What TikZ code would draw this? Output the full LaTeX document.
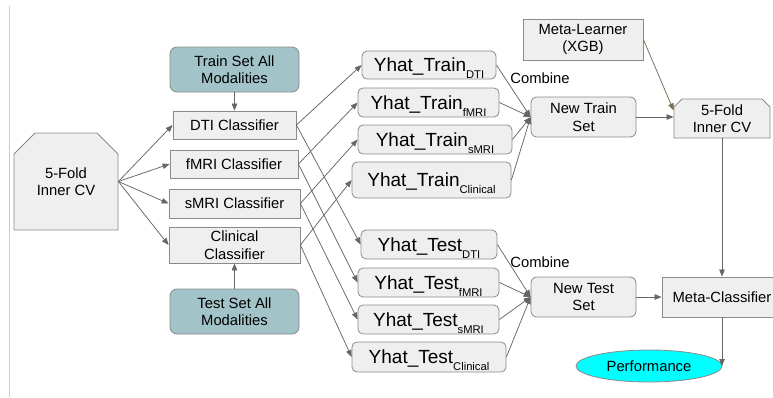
\documentclass[tikz,border=0pt]{standalone}
\usepackage{fontspec}
\setmainfont{Liberation Sans}
\usetikzlibrary{arrows.meta,shapes.misc,shapes.geometric}

\definecolor{boxfill}{HTML}{EFEFEF}
\definecolor{boxline}{HTML}{8A8A8A}
\definecolor{wire}{HTML}{666666}
\definecolor{setfill}{HTML}{A2C4C9}
\definecolor{perfcyan}{HTML}{00FFFF}
\definecolor{xgbwire}{HTML}{7A6A52}
\definecolor{marginline}{HTML}{CCCCCC}

% prediction label: main name with a lowered modality subscript
\newcommand{\yhatlabel}[2]{#1\raisebox{-7pt}{\fontsize{11.2}{13}\selectfont #2}}

\tikzset{
  box/.style={draw=boxline, fill=boxfill, line width=0.8pt, inner sep=0pt,
              align=center, text=black},
  rbox/.style={box, rounded corners=5pt},
  ybox/.style={rbox, font=\fontsize{19}{22}\selectfont, text height=13pt, text depth=0pt},
  setbox/.style={rbox, fill=setfill, rounded corners=7pt},
  cvbox/.style={box, chamfered rectangle, chamfered rectangle corners={north west, north east}},
  conn/.style={draw=wire, line width=0.75pt, -{Triangle[length=7pt,width=5.5pt]}},
}

\begin{document}
\begin{tikzpicture}[x=1pt, y=-1pt, font=\fontsize{14.8}{17.5}\selectfont]
\useasboundingbox (0,0) rectangle (773,397);
\clip (0,0) rectangle (773,397);

% page margin rule
\draw[marginline, line width=0.8pt] (9,6) -- (9,397);

% outer cross-validation split
\node[cvbox, chamfered rectangle xsep=11pt, chamfered rectangle ysep=10pt,
      minimum width=104pt, minimum height=97pt] (cvL) at (66,181.5) {5-Fold\\Inner CV};

% data sources
\node[setbox, minimum width=129pt, minimum height=45pt] (trainset) at (234.5,69.5) {Train Set All\\Modalities};
\node[setbox, minimum width=129pt, minimum height=45pt] (testset) at (234.5,311.5) {Test Set All\\Modalities};

% base classifiers
\node[box, minimum width=123pt, minimum height=28pt] (dti)  at (234.5,125)   {DTI Classifier};
\node[box, minimum width=128pt, minimum height=28pt] (fmri) at (234,164)     {fMRI Classifier};
\node[box, minimum width=131pt, minimum height=29pt] (smri) at (234.5,203.5) {sMRI Classifier};
\node[box, minimum width=131pt, minimum height=36pt] (clin) at (234.5,245)   {Clinical\\Classifier};

% predictions on the training folds
\node[ybox, minimum width=134pt, minimum height=28pt] (trD) at (429,65)      {\yhatlabel{Yhat\_Train}{DTI}};
\node[ybox, minimum width=141pt, minimum height=29pt] (trF) at (428.5,102.5) {\yhatlabel{Yhat\_Train}{fMRI}};
\node[ybox, minimum width=154pt, minimum height=29pt] (trS) at (435,139.5)   {\yhatlabel{Yhat\_Train}{sMRI}};
\node[ybox, minimum width=159pt, minimum height=36pt] (trC) at (431.5,180)   {\yhatlabel{Yhat\_Train}{Clinical}};

% predictions on the test set
\node[ybox, minimum width=136pt, minimum height=29pt] (teD) at (429,244.5)   {\yhatlabel{Yhat\_Test}{DTI}};
\node[ybox, minimum width=141pt, minimum height=29pt] (teF) at (428.5,282.5) {\yhatlabel{Yhat\_Test}{fMRI}};
\node[ybox, minimum width=141pt, minimum height=29pt] (teS) at (428.5,319.5) {\yhatlabel{Yhat\_Test}{sMRI}};
\node[ybox, minimum width=154pt, minimum height=30pt] (teC) at (429,357)     {\yhatlabel{Yhat\_Test}{Clinical}};

% stacked feature sets
\node[rbox, rounded corners=6pt, minimum width=105pt, minimum height=40pt] (ntrain) at (583.5,117) {New Train\\Set};
\node[rbox, rounded corners=6pt, minimum width=105pt, minimum height=40pt] (ntest)  at (583.5,297) {New Test\\Set};
\node (comb1) at (540,78)  {Combine};
\node (comb2) at (540,262) {Combine};

% meta level
\node[box, minimum width=120pt, minimum height=41pt] (meta) at (583,39.5) {Meta-Learner\\(XGB)};
\node[cvbox, chamfered rectangle xsep=4pt, chamfered rectangle ysep=4pt,
      minimum width=96pt, minimum height=39pt] (cvR) at (722,118.5) {5-Fold\\Inner CV};
\node[box, minimum width=120pt, minimum height=40pt] (metaC) at (722,297) {Meta-Classifier};
\node[ellipse, draw=boxline, fill=perfcyan, line width=0.8pt, inner sep=0pt,
      minimum width=146pt, minimum height=32pt] (perf) at (649,366) {Performance};

% split into modality classifiers
\foreach \c in {dti,fmri,smri,clin}
  \draw[conn] (cvL.east) -- (\c.west);
\draw[conn] (trainset.south) -- (dti.north);
\draw[conn] (testset.north) -- (clin.south);

% classifier outputs
\draw[conn] (dti.east)  -- (trD.west);
\draw[conn] (fmri.east) -- (trF.west);
\draw[conn] (smri.east) -- (trS.west);
\draw[conn] (clin.east) -- (trC.west);
\draw[conn] (dti.east)  -- (teD.west);
\draw[conn] (fmri.east) -- (teF.west);
\draw[conn] (smri.east) -- (teS.west);
\draw[conn] (clin.east) -- (teC.west);

% combining predictions
\foreach \p in {trD,trF,trS,trC}
  \draw[conn] (\p.east) -- (ntrain.west);
\foreach \p in {teD,teF,teS,teC}
  \draw[conn] (\p.east) -- (ntest.west);

% meta-learning stage
\draw[conn] (ntrain.east) -- (ntrain.east -| cvR.west);
\draw[conn, draw=xgbwire] (meta.east) -- ([yshift=8pt]cvR.west);
\draw[conn] (cvR.south) -- (cvR.south |- metaC.north);
\draw[conn] (ntest.east) -- (metaC.west);
\draw[conn] (metaC.south) -- (metaC.south |- perf.east);
\end{tikzpicture}
\end{document}
